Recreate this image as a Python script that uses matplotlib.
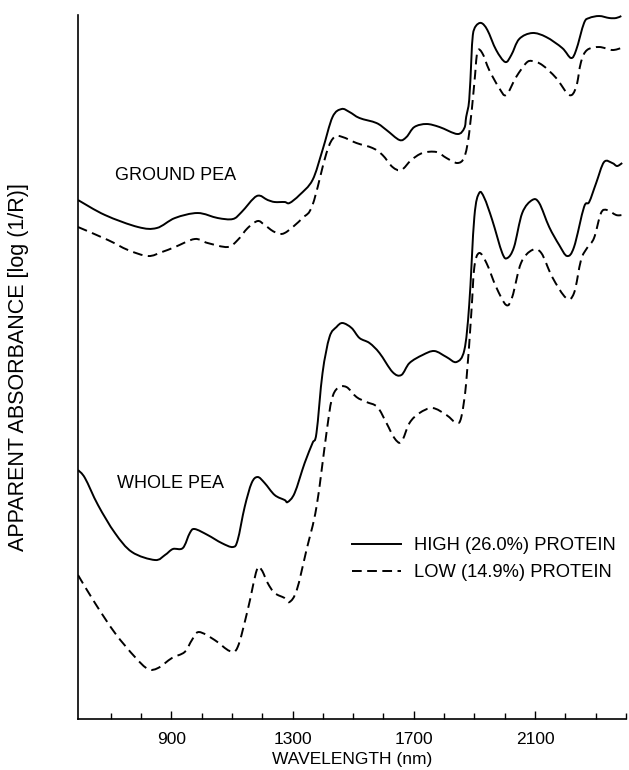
# NIR spectra of ground and whole pea, high vs low protein
import matplotlib
matplotlib.use("Agg")
import matplotlib.pyplot as plt
from matplotlib.path import Path
from matplotlib.patches import PathPatch
from matplotlib.lines import Line2D
from matplotlib.ticker import FixedLocator

plt.rcParams['font.family'] = ['Liberation Sans', 'DejaVu Sans']

# wavelength (nm) and apparent absorbance (arbitrary offset units)
ground_high_wl = [592, 681, 790, 852, 912, 987, 1053, 1103, 1132, 1182, 1218, 1241,
                  1274, 1290, 1323, 1366, 1399, 1432, 1462, 1488, 1521, 1577, 1610,
                  1653, 1676, 1702, 1742, 1785, 1844, 1867, 1873, 1883, 1890, 1895,
                  1905, 1923, 1943, 1972, 2002, 2022, 2048, 2091, 2137, 2190, 2219,
                  2236, 2262, 2279, 2312, 2345, 2368, 2385]
ground_high = [5.19, 5.04, 4.92, 4.91, 5.01, 5.06, 5.01, 5.00, 5.07, 5.23, 5.19, 5.17,
               5.17, 5.16, 5.24, 5.39, 5.69, 6.02, 6.10, 6.07, 6.01, 5.96, 5.89,
               5.79, 5.82, 5.92, 5.95, 5.92, 5.85, 5.91, 6.02, 6.19, 6.59, 6.84,
               6.93, 6.96, 6.89, 6.69, 6.57, 6.64, 6.80, 6.86, 6.82, 6.71, 6.61,
               6.69, 6.96, 7.01, 7.03, 7.01, 7.01, 7.03]

ground_low_wl = [592, 691, 757, 823, 869, 912, 977, 1020, 1086, 1119, 1152, 1185,
                 1208, 1241, 1274, 1333, 1366, 1412, 1438, 1465, 1511, 1564, 1597,
                 1630, 1659, 1692, 1729, 1775, 1808, 1844, 1867, 1883, 1900, 1910,
                 1926, 1949, 1982, 2005, 2038, 2071, 2091, 2124, 2170, 2213, 2236,
                 2252, 2272, 2312, 2355, 2385]
ground_low = [4.92, 4.79, 4.69, 4.63, 4.67, 4.72, 4.80, 4.76, 4.72, 4.79, 4.91, 4.98,
              4.94, 4.87, 4.86, 5.01, 5.14, 5.66, 5.82, 5.82, 5.76, 5.71, 5.64,
              5.52, 5.49, 5.59, 5.66, 5.67, 5.61, 5.56, 5.62, 5.86, 6.36, 6.67,
              6.66, 6.49, 6.31, 6.24, 6.42, 6.56, 6.58, 6.54, 6.41, 6.24, 6.32,
              6.57, 6.69, 6.72, 6.69, 6.71]

whole_high_wl = [592, 615, 658, 714, 770, 846, 879, 905, 938, 961, 977, 1020, 1066,
                 1103, 1119, 1142, 1165, 1185, 1208, 1241, 1274, 1284, 1307, 1340,
                 1366, 1379, 1399, 1422, 1445, 1465, 1495, 1521, 1554, 1587, 1630,
                 1659, 1686, 1729, 1768, 1808, 1841, 1867, 1883, 1900, 1916, 1933,
                 1959, 1992, 2009, 2031, 2058, 2091, 2114, 2147, 2180, 2206, 2229,
                 2262, 2279, 2302, 2328, 2355, 2371, 2388]
whole_high = [2.49, 2.41, 2.14, 1.86, 1.67, 1.59, 1.64, 1.70, 1.71, 1.86, 1.90, 1.84,
              1.76, 1.72, 1.79, 2.12, 2.36, 2.42, 2.36, 2.24, 2.19, 2.17, 2.26, 2.56,
              2.76, 2.86, 3.46, 3.82, 3.92, 3.96, 3.91, 3.81, 3.76, 3.66, 3.47,
              3.44, 3.56, 3.64, 3.68, 3.62, 3.57, 3.69, 4.14, 5.02, 5.26, 5.21,
              4.99, 4.66, 4.61, 4.72, 5.06, 5.19, 5.16, 4.92, 4.74, 4.63, 4.72,
              5.12, 5.17, 5.36, 5.57, 5.56, 5.53, 5.56]

whole_low_wl = [592, 648, 714, 780, 823, 856, 902, 944, 968, 991, 1043, 1093, 1119,
                1152, 1182, 1198, 1218, 1241, 1274, 1290, 1314, 1346, 1379, 1412,
                1429, 1449, 1478, 1511, 1544, 1580, 1610, 1636, 1659, 1686, 1719,
                1762, 1808, 1841, 1857, 1873, 1890, 1900, 1916, 1940, 1972, 2005,
                2025, 2054, 2091, 2121, 2157, 2203, 2229, 2252, 2272, 2295, 2318,
                2338, 2368, 2388]
whole_low = [1.44, 1.16, 0.86, 0.62, 0.50, 0.51, 0.61, 0.67, 0.79, 0.87, 0.79, 0.68,
             0.72, 1.09, 1.49, 1.49, 1.36, 1.26, 1.21, 1.17, 1.29, 1.69, 2.12, 2.86,
             3.19, 3.31, 3.32, 3.22, 3.17, 3.12, 2.96, 2.81, 2.77, 2.96, 3.06,
             3.11, 3.04, 2.96, 3.02, 3.36, 4.06, 4.52, 4.66, 4.56, 4.32, 4.14,
             4.22, 4.56, 4.69, 4.66, 4.42, 4.21, 4.26, 4.59, 4.71, 4.81, 5.06,
             5.09, 5.04, 5.04]

major_ticks = [900, 1300, 1700, 2100]
minor_ticks = [w for w in range(700, 2401, 100) if w not in major_ticks]


def smooth_path(xs, ys):
    # Catmull-Rom through the read points, drawn as cubic Bezier segments
    pts = list(zip(xs, ys))
    verts = [pts[0]]
    codes = [Path.MOVETO]
    n = len(pts)
    for i in range(n - 1):
        p0 = pts[max(i - 1, 0)]
        p1 = pts[i]
        p2 = pts[i + 1]
        p3 = pts[min(i + 2, n - 1)]
        c1 = (p1[0] + (p2[0] - p0[0]) / 6, p1[1] + (p2[1] - p0[1]) / 6)
        c2 = (p2[0] - (p3[0] - p1[0]) / 6, p2[1] - (p3[1] - p1[1]) / 6)
        verts += [c1, c2, p2]
        codes += [Path.CURVE4] * 3
    return Path(verts, codes)


fig = plt.figure(figsize=(6.29, 7.70), dpi=100)
ax = fig.add_axes([0.124, 0.0662, 0.871, 0.9143])

lw = 1.4
dash = (0, (5, 2.8))
for xs, ys, ls in [(ground_high_wl, ground_high, '-'),
                   (ground_low_wl, ground_low, dash),
                   (whole_high_wl, whole_high, '-'),
                   (whole_low_wl, whole_low, dash)]:
    ax.add_patch(PathPatch(smooth_path(xs, ys), fill=False, edgecolor='black',
                           lw=lw, linestyle=ls, capstyle='butt', joinstyle='round'))

ax.set_xlim(592, 2400)
ax.set_ylim(0, 7.04)

ax.xaxis.set_major_locator(FixedLocator(major_ticks))
ax.xaxis.set_minor_locator(FixedLocator(minor_ticks))
ax.tick_params(axis='x', which='major', direction='in', length=6, width=1,
               pad=9, labelsize=12.5)
ax.tick_params(axis='x', which='minor', direction='in', length=4, width=1)
ax.set_yticks([])

for s in ['top', 'right']:
    ax.spines[s].set_visible(False)
for s in ['left', 'bottom']:
    ax.spines[s].set_linewidth(1.2)

ax.set_xlabel('WAVELENGTH (nm)', fontsize=12.5)
ax.xaxis.set_label_coords(0.5, -0.047)
ax.set_ylabel('APPARENT ABSORBANCE [log (1/R)]', fontsize=15.5)
ax.yaxis.set_label_coords(-0.089, 0.5)

ax.text(714, 5.44, 'GROUND PEA', fontsize=13, va='center', ha='left')
ax.text(720, 2.36, 'WHOLE PEA', fontsize=13, va='center', ha='left')

handles = [Line2D([], [], color='black', lw=lw),
           Line2D([], [], color='black', lw=lw, linestyle=dash)]
ax.legend(handles, ['HIGH (26.0%) PROTEIN', 'LOW (14.9%) PROTEIN'],
          loc='upper left', bbox_to_anchor=(0.5, 0.258), frameon=False,
          fontsize=13.2, handlelength=2.7, handletextpad=0.7, labelspacing=0.55,
          borderpad=0, borderaxespad=0)

fig.savefig('out.png', dpi=100)
